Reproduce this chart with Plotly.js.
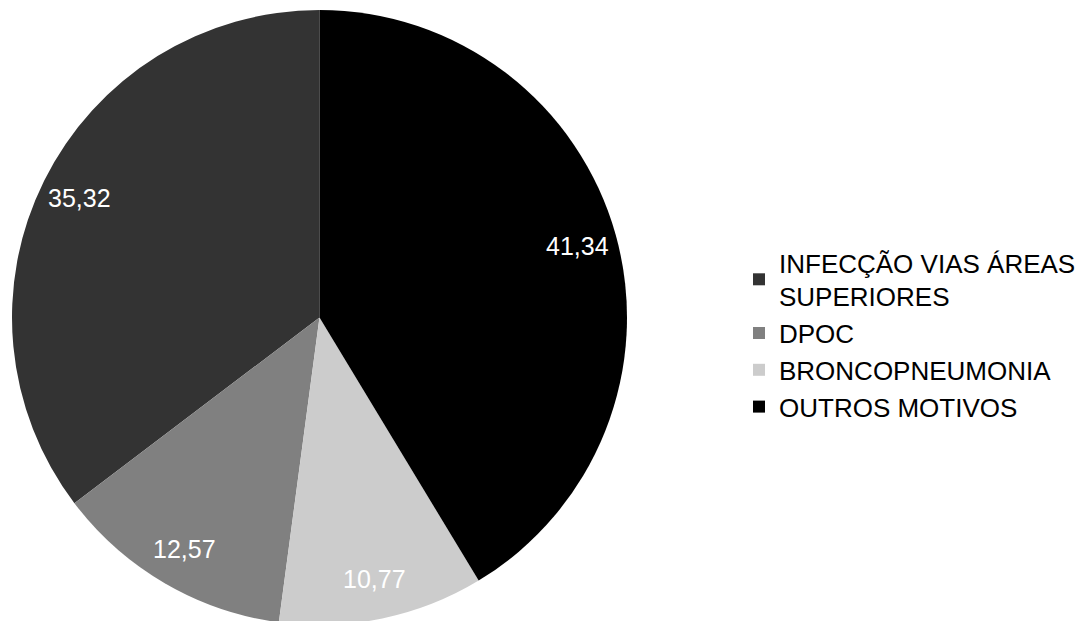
<!DOCTYPE html>
<html>
<head>
<meta charset="utf-8">
<script src="https://cdn.plot.ly/plotly-3.0.1.min.js"></script>
<style>
html, body { margin: 0; padding: 0; background: #ffffff; overflow: hidden; }
#wrap { width: 1085px; height: 621px; overflow: hidden; position: relative; }
#chart { width: 1085px; height: 636px; }
</style>
</head>
<body>
<div id="wrap"><div id="chart"></div></div>
<script>
// Data
const categories = ["INFECÇÃO VIAS ÁREAS<br>SUPERIORES", "DPOC", "BRONCOPNEUMONIA", "OUTROS MOTIVOS"];
const values = [35.32, 12.57, 10.77, 41.34];
const valueLabels = ["35,32", "12,57", "10,77", "41,34"];
const colors = ["#333333", "#808080", "#cccccc", "#000000"];

const W = 1085, H = 636;
const domain = { x: [12 / W, 627 / W], y: [1 - 625 / H, 1 - 10 / H] };

const total = values.reduce((a, b) => a + b, 0);
// Plotly's counterclockwise mode places the first slice ending at the rotation angle;
// shift so the first slice starts at 12 o'clock and runs counter-clockwise.
const rotation = -values[0] / total * 360;

// label placement derived from the data (mid-angle of each slice)
const cx = (domain.x[0] + domain.x[1]) / 2;
const cy = (domain.y[0] + domain.y[1]) / 2;
const R = Math.min((domain.x[1] - domain.x[0]) * W, (domain.y[1] - domain.y[0]) * H) / 2;
const labelRadius = 0.87 * R;
let cum = 0;
const annotations = values.map((v, i) => {
  const theta = 2 * Math.PI * (cum + v / 2) / total; // counter-clockwise from 12 o'clock
  cum += v;
  const dx = -Math.sin(theta) * labelRadius;
  const dy = Math.cos(theta) * labelRadius;
  return {
    xref: "paper", yref: "paper",
    x: cx + dx / W, y: cy + dy / H,
    xanchor: "center", yanchor: "middle",
    text: valueLabels[i], showarrow: false,
    font: { family: "Liberation Sans, Arial, sans-serif", size: 25, color: "#ffffff" }
  };
});

const trace = {
  type: "pie",
  labels: categories,
  values: values,
  sort: false,
  direction: "counterclockwise",
  rotation: rotation,
  marker: { colors: colors, line: { width: 0 } },
  textinfo: "none",
  hoverinfo: "label+value",
  domain: domain
};

const layout = {
  width: W, height: H,
  margin: { l: 0, r: 0, t: 0, b: 0 },
  paper_bgcolor: "#ffffff",
  showlegend: true,
  legend: {
    x: 739 / W, xanchor: "left",
    y: 1 - 335 / H, yanchor: "middle",
    font: { family: "Liberation Sans, Arial, sans-serif", size: 26, color: "#000000" },
    bgcolor: "rgba(0,0,0,0)",
    tracegroupgap: 0
  },
  annotations: annotations,
  font: { family: "Liberation Sans, Arial, sans-serif" }
};

Plotly.newPlot("chart", [trace], layout, { displayModeBar: false, staticPlot: true });
</script>
</body>
</html>
